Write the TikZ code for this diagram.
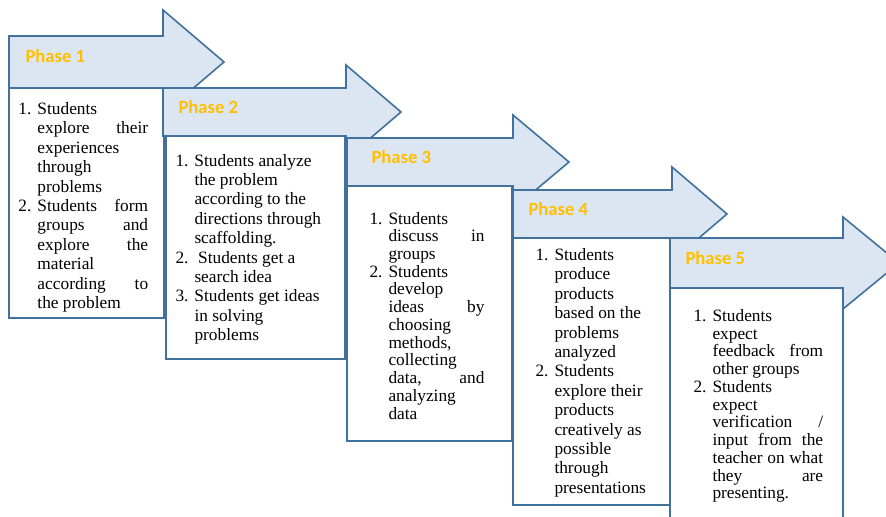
\documentclass[tikz,border=0pt]{standalone}
\usepackage{fontspec}
\setmainfont{Liberation Serif}
\newfontfamily\phasefont{Carlito}

\newcommand{\stepnum}[1]{\makebox[14.25pt][l]{#1}}
\newcommand{\stepgap}{\hspace*{14.25pt}}
\newcommand{\stepfill}[2]{\makebox[#1][s]{#2}}

\tikzset{every picture/.style={line width=0.75pt}}
\tikzset{
  phasearrow/.style={draw={rgb, 255:red, 65; green, 113; blue, 156}, fill={rgb, 255:red, 220; green, 230; blue, 242}, line width=1.2pt, line join=miter},
  stepbox/.style={draw={rgb, 255:red, 65; green, 113; blue, 156}, fill=white, line width=1.2pt},
  phaselabel/.style={anchor=west, inner sep=0pt, text={rgb, 255:red, 255; green, 192; blue, 0}, font=\phasefont\bfseries\fontsize{14}{17}\selectfont},
  steptext/.style={anchor=north west, inner sep=0pt, align=left, font=\fontsize{13}{14.55}\selectfont},
  tightsteptext/.style={steptext, font=\fontsize{13}{13.3}\selectfont}
}

\begin{document}
\begin{tikzpicture}[x=0.75pt,y=0.75pt,yscale=-1,xscale=1]
\useasboundingbox (0,0) rectangle (886,517);
\clip (0,0) rectangle (886,517);

%Shape: Right Arrow [phase 1]
\draw [phasearrow] (9,36) -- (163,36) -- (163,10) -- (224,62) -- (163,114) -- (163,88) -- (9,88) -- cycle ;
%Shape: Rectangle [phase 1]
\draw [stepbox] (9,88) -- (164,88) -- (164,318) -- (9,318) -- cycle ;

%Shape: Right Arrow [phase 2]
\draw [phasearrow] (163,88) -- (346,88) -- (346,65) -- (401,112) -- (346,159) -- (346,136) -- (163,136) -- cycle ;
%Shape: Rectangle [phase 2]
\draw [stepbox] (166,136) -- (345,136) -- (345,359) -- (166,359) -- cycle ;

%Shape: Right Arrow [phase 3]
\draw [phasearrow] (347,138) -- (513,138) -- (513,115) -- (569,162) -- (513,209) -- (513,186) -- (347,186) -- cycle ;
%Shape: Rectangle [phase 3]
\draw [stepbox] (347,186) -- (512,186) -- (512,441) -- (347,441) -- cycle ;

%Shape: Right Arrow [phase 4]
\draw [phasearrow] (513,190) -- (672,190) -- (672,167) -- (727,214) -- (672,261) -- (672,238) -- (513,238) -- cycle ;
%Shape: Rectangle [phase 4]
\draw [stepbox] (513,238) -- (671,238) -- (671,505) -- (513,505) -- cycle ;

%Shape: Right Arrow [phase 5]
\draw [phasearrow] (670,238) -- (843,238) -- (843,217) -- (899,263) -- (843,309) -- (843,288) -- (670,288) -- cycle ;
%Shape: Rectangle [phase 5]
\draw [stepbox] (670,288) -- (843,288) -- (843,530) -- (670,530) -- cycle ;

% Text Node
\draw (25,56) node (ph1) [phaselabel] {Phase 1};
% Text Node
\draw (178,107) node (ph2) [phaselabel] {Phase 2};
% Text Node
\draw (371,157) node (ph3) [phaselabel] {Phase 3};
% Text Node
\draw (528,209) node (ph4) [phaselabel] {Phase 4};
% Text Node
\draw (685,258) node (ph5) [phaselabel] {Phase 5};

% Text Node
\draw (18,102) node (st1) [steptext] {\stepnum{1.}Students\\
\stepgap\stepfill{83pt}{explore their}\\
\stepgap experiences\\
\stepgap through\\
\stepgap problems\\
\stepnum{2.}\stepfill{83pt}{Students form}\\
\stepgap\stepfill{83pt}{groups and}\\
\stepgap\stepfill{83pt}{explore the}\\
\stepgap material\\
\stepgap\stepfill{83pt}{according to}\\
\stepgap the problem};
% Text Node
\draw (175,153.5) node (st2) [steptext] {\stepnum{1.}Students analyze\\
\stepgap the problem\\
\stepgap according to the\\
\stepgap directions through\\
\stepgap scaffolding.\\
\makebox[17pt][l]{2.}Students get a\\
\stepgap search idea\\
\stepnum{3.}Students get ideas\\
\stepgap in solving\\
\stepgap problems};
% Text Node
\draw (369,211.5) node (st3) [tightsteptext] {\stepnum{1.}Students\\
\stepgap\stepfill{72pt}{discuss in}\\
\stepgap groups\\
\stepnum{2.}Students\\
\stepgap develop\\
\stepgap\stepfill{72pt}{ideas by}\\
\stepgap choosing\\
\stepgap methods,\\
\stepgap collecting\\
\stepgap\stepfill{72pt}{data, and}\\
\stepgap analyzing\\
\stepgap data};
% Text Node
\draw (535,248) node (st4) [steptext] {\stepnum{1.}Students\\
\stepgap produce\\
\stepgap products\\
\stepgap based on the\\
\stepgap problems\\
\stepgap analyzed\\
\stepnum{2.}Students\\
\stepgap explore their\\
\stepgap products\\
\stepgap creatively as\\
\stepgap possible\\
\stepgap through\\
\stepgap presentations};
% Text Node
\draw (693,309) node (st5) [tightsteptext] {\stepnum{1.}Students\\
\stepgap expect\\
\stepgap\stepfill{83pt}{feedback from}\\
\stepgap other groups\\
\stepnum{2.}Students\\
\stepgap expect\\
\stepgap\stepfill{83pt}{verification /}\\
\stepgap\stepfill{83pt}{input from the}\\
\stepgap\stepfill{83pt}{teacher on what}\\
\stepgap\stepfill{83pt}{they are}\\
\stepgap presenting.};

\end{tikzpicture}
\end{document}
